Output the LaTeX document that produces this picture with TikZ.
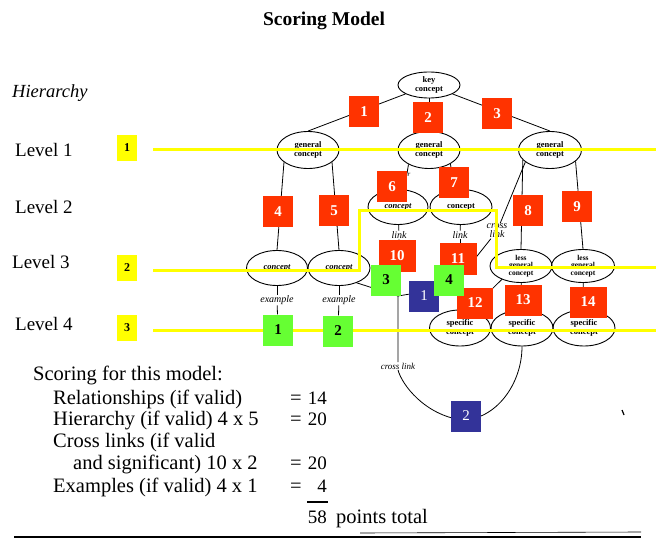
\documentclass[tikz,border=0pt]{standalone}
\usepackage{fontspec}
\setmainfont{Liberation Serif}
\usetikzlibrary{shapes.geometric}
\definecolor{redbox}{HTML}{FF3300}
\definecolor{greenbox}{HTML}{66FF33}
\definecolor{bluebox}{HTML}{333399}
\definecolor{yel}{HTML}{FFFF00}
\begin{document}
\begin{tikzpicture}[x=1pt,y=-1pt,
  cpt/.style={ellipse,draw,line width=0.9pt,inner sep=0pt,align=center,
    font=\fontsize{8.5}{9.5}\selectfont\bfseries},
  cpt3/.style={cpt,font=\fontsize{7.5}{7.5}\selectfont\bfseries},
  lbl/.style={font=\fontsize{10}{9}\selectfont\itshape,inner sep=0.6pt,fill=white,align=center},
  lnk/.style={line width=0.8pt},
  yl/.style={draw=yel,line width=3pt},
  numbox/.style={minimum width=30pt,minimum height=31pt,inner sep=0pt,
    font=\fontsize{15}{15}\selectfont\bfseries},
  rbox/.style={numbox,fill=redbox,text=white},
  gbox/.style={numbox,fill=greenbox,text=black},
  bbox/.style={numbox,fill=bluebox,text=white,font=\fontsize{15}{15}\selectfont},
  ybox/.style={fill=yel,minimum width=20pt,minimum height=26pt,inner sep=0pt,
    font=\fontsize{12}{12}\selectfont\bfseries},
  txt/.style={font=\fontsize{20.5}{24}\selectfont,inner sep=0pt,anchor=base west},
  num/.style={font=\fontsize{19}{24}\selectfont,inner sep=0pt,anchor=base east},
  lev/.style={font=\fontsize{19}{22}\selectfont,inner sep=0pt,anchor=base west}
]
\useasboundingbox (0,0) rectangle (656,540);
\fill[white] (0,0) rectangle (656,540);

% title and level labels
\node[font=\fontsize{19.5}{20}\selectfont\bfseries,inner sep=0pt,anchor=base] (title) at (324,26) {Scoring Model};
\node[lev,font=\fontsize{18.5}{22}\selectfont\itshape] (hier) at (12,98) {Hierarchy};
\node[lev] (l1) at (15,157) {Level 1};
\node[lev] (l2) at (15,214) {Level 2};
\node[lev] (l3) at (12,269) {Level 3};
\node[lev] (l4) at (15,330) {Level 4};

% concept ellipses
\node[cpt,minimum width=62pt,minimum height=26pt] (key) at (429,85) {key\\concept};
\node[cpt,minimum width=62pt,minimum height=37pt] (gl) at (308,150) {general\\concept};
\node[cpt,minimum width=62pt,minimum height=37pt] (gm) at (429,150) {general\\concept};
\node[cpt,minimum width=63pt,minimum height=37pt] (gr) at (550,150) {general\\concept};
\node[cpt,minimum width=60pt,minimum height=35pt,font=\fontsize{8.5}{9.5}\selectfont\bfseries\itshape] (c6) at (398,207) {concept};
\node[cpt,minimum width=62pt,minimum height=35pt] (c7) at (461,207) {concept};
\node[cpt,minimum width=61pt,minimum height=35pt,font=\fontsize{8.5}{9.5}\selectfont\bfseries\itshape] (c3a) at (277,268) {concept};
\node[cpt,minimum width=62pt,minimum height=35pt,font=\fontsize{8.5}{9.5}\selectfont\bfseries\itshape] (c3b) at (339,268) {concept};
\node[cpt3,minimum width=62pt,minimum height=33pt] (lg8) at (521,266) {less\\general\\concept};
\node[cpt3,minimum width=63pt,minimum height=33pt] (lg9) at (583,266) {less\\general\\concept};
\node[cpt,minimum width=61pt,minimum height=36pt] (sp12) at (460,328) {specific\\concept};
\node[cpt,minimum width=62pt,minimum height=36pt] (sp13) at (522,328) {specific\\concept};
\node[cpt,minimum width=62pt,minimum height=36pt] (sp14) at (584,328) {specific\\concept};

% linking words
\node[lbl] (lk6) at (399,235) {link};
\node[lbl] (lk7) at (460,235) {link};
\node[lbl] (xl1) at (497,231) {cross\\link};
\node[lbl] (ex1) at (277,300) {example};
\node[lbl] (ex2) at (339,300) {example};
\node[lbl,font=\fontsize{9}{9}\selectfont\itshape] (xl2) at (398,366) {cross link};
\node[font=\fontsize{7}{7}\selectfont\itshape,inner sep=0pt] (rr) at (409,175) {r};
\coordinate (j1) at (398,296);
\coordinate (j2) at (466,270);

% connectors
\draw[lnk] (key) -- (gl.north);
\draw[lnk] (key) -- (gm);
\draw[lnk] (key) -- (gr.north);
\draw[lnk] (gl.207) -- (c3a.north);
\draw[lnk] (gl.333) -- (c3b.north);
\draw[lnk] (gm.215) -- (c6.70);
\draw[lnk] (gm.327) -- (c7.110);
\draw[lnk] (gr.200) -- (lg8.north);
\draw[lnk] (gr.206) -- (xl1);
\draw[lnk] (xl1) -- (j2);
\draw[lnk] (gr.336) -- (lg9.north);
\draw[lnk] (c6) -- (lk6);
\draw[lnk] (lk6) -- (j1) -- (xl2);
\draw[lnk] (c3b.320) -- (j1);
\draw[lnk] (j1) -- (410,294);
\draw[lnk] (c7) -- (lk7);
\draw[lnk] (lk7) -- (sp12);
\draw[lnk] (lg8.215) -- (sp12.60);
\draw[lnk] (lg8) -- (sp13);
\draw[lnk] (lg9) -- (sp14);
\draw[lnk] (c3a) -- (ex1);
\draw[lnk] (c3b) -- (ex2);
\draw[lnk] (sp13.south) .. controls (522,385) and (495,420) .. (462,420)
   .. controls (425,415) and (402,385) .. (xl2.south);
\draw[line width=1.2pt] (622,410) -- (624,415);

% yellow level lines
\node[ybox] (y1) at (127,148) {1};
\node[ybox] (y2) at (127,268) {2};
\node[ybox] (y3) at (127,328) {3};
\draw[yl] (153,150) -- (656,150);
\draw[yl] (153,270) -- (359,270) -- (359,211) -- (496,211) -- (496,267) -- (656,267);
\draw[yl] (153,330) -- (656,330);

% example links to green boxes
\node[gbox] (g1) at (278,330) {1};
\node[gbox] (g2) at (338,331) {2};
\draw[lnk] (ex1) -- (g1);
\draw[lnk] (ex2) -- (g2);

% red relationship boxes
\node[rbox] (r1) at (364,112) {1};
\node[rbox] (r2) at (428,118) {2};
\node[rbox] (r3) at (497,114) {3};
\node[rbox] (r4) at (278,212) {4};
\node[rbox] (r5) at (334,211) {5};
\node[rbox] (r6) at (392,187) {6};
\node[rbox] (r7) at (454,183) {7};
\node[rbox] (r8) at (528,211) {8};
\node[rbox] (r9) at (577,207) {9};
\node[rbox,minimum width=37pt] (r10) at (397,256) {10};
\node[rbox,minimum width=37pt] (r11) at (458,259) {11};
\node[rbox,minimum width=36pt] (r12) at (475,303) {12};
\node[rbox,minimum width=37pt] (r13) at (523,300) {13};
\node[rbox,minimum width=37pt] (r14) at (588,302) {14};

% blue cross-link boxes
\node[bbox] (b1) at (424,296) {1};
\node[bbox] (b2) at (466,416) {2};

% green example boxes
\node[gbox] (g3) at (386,280) {3};
\node[gbox] (g4) at (449,280) {4};

% scoring text
\node[txt] (s0) at (33,380) {Scoring for this model:};
\node[txt] (s1) at (53,404) {Relationships (if valid)};
\node[txt] (s2) at (53,425) {Hierarchy (if valid) 4 x 5};
\node[txt] (s3) at (53,447) {Cross links (if valid};
\node[txt] (s4) at (73,469) {and significant) 10 x 2};
\node[txt] (s5) at (53,492) {Examples (if valid) 4 x 1};
\node[txt] (e1) at (290,404) {=};
\node[txt] (e2) at (290,425) {=};
\node[txt] (e4) at (290,469) {=};
\node[txt] (e5) at (290,492) {=};
\node[num] (n1) at (327,404) {14};
\node[num] (n2) at (327,425) {20};
\node[num] (n4) at (327,469) {20};
\node[num] (n5) at (327,492) {4};
\draw[line width=1.6pt] (307,502) -- (328,502);
\node[num] (tot) at (327,523) {58};
\node[txt] (tot2) at (336,523) {points total};
\draw[line width=2.2pt] (14,537) -- (641,537);
\draw[line width=0.6pt] (360,533) -- (641,532);
\end{tikzpicture}
\end{document}
